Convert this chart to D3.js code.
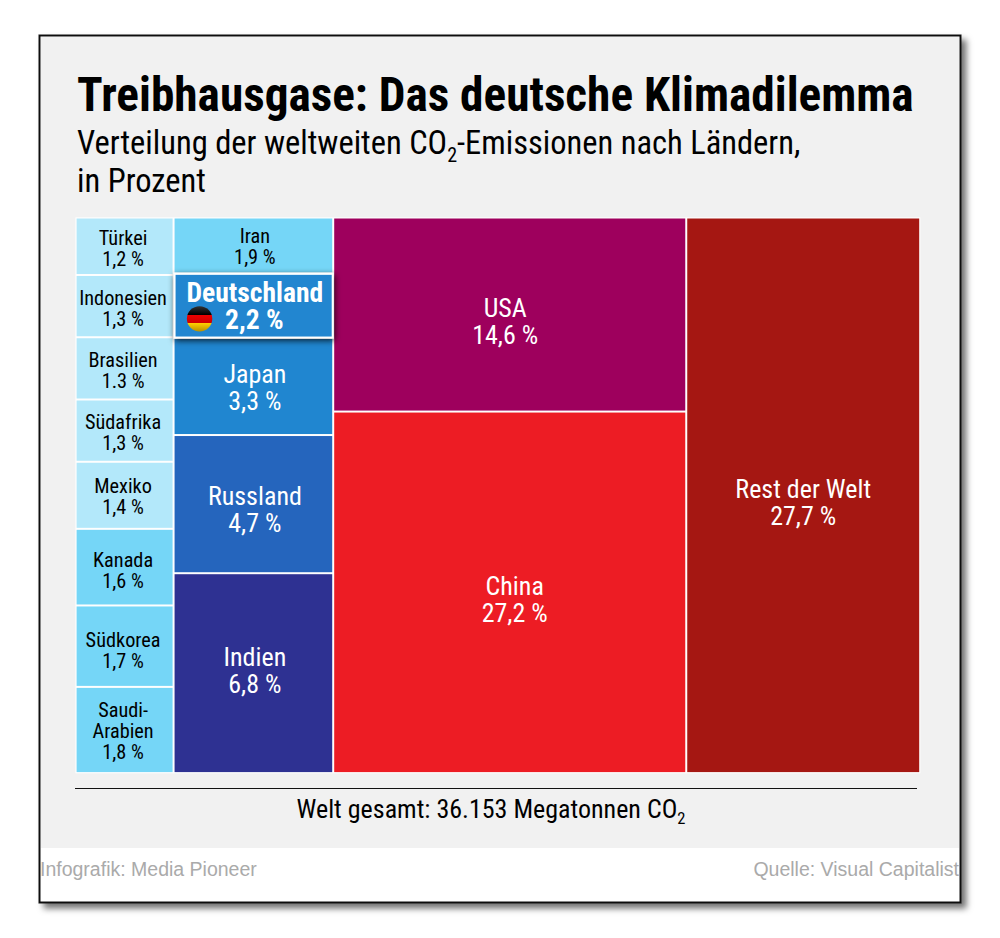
<!DOCTYPE html>
<html><head><meta charset="utf-8">
<script src="https://cdn.jsdelivr.net/npm/d3@7"></script>
<style>html,body{margin:0;padding:0;background:#fff}svg{display:block}
text{font-family:"Roboto Condensed",Roboto,sans-serif;font-stretch:condensed}</style></head>
<body><svg id="c" width="1000" height="938"></svg>
<script>
const col1Names=[["Türkei"],["Indonesien"],["Brasilien"],["Südafrika"],["Mexiko"],["Kanada"],["Südkorea"],["Saudi-","Arabien"]];
const col1Values=[1.2,1.3,1.3,1.3,1.4,1.6,1.7,1.8];
const col1Labels=["1,2 %","1,3 %","1.3 %","1,3 %","1,4 %","1,6 %","1,7 %","1,8 %"];
const col1Colors=["#b3e8fa","#b3e8fa","#b3e8fa","#b3e8fa","#b3e8fa","#75d6f7","#75d6f7","#75d6f7"];
const col2Names=[["Iran"],["Deutschland"],["Japan"],["Russland"],["Indien"]];
const col2Values=[1.9,2.2,3.3,4.7,6.8];
const col2Labels=["1,9 %","2,2 %","3,3 %","4,7 %","6,8 %"];
const col2Colors=["#75d6f7","#2086d0","#2086d0","#2565bd","#2e3192"];
const col3Names=[["USA"],["China"]];
const col3Values=[14.6,27.2];
const col3Labels=["14,6 %","27,2 %"];
const col3Colors=["#9e005d","#ed1c24"];
const col4Names=[["Rest der Welt"]];
const col4Values=[27.7];
const col4Labels=["27,7 %"];
const col4Colors=["#a51712"];

const mk=(n,v,l,c)=>({children:n.map((d,i)=>({name:d,value:v[i],label:l[i],color:c[i]}))});
const data={children:[mk(col1Names,col1Values,col1Labels,col1Colors),mk(col2Names,col2Values,col2Labels,col2Colors),mk(col3Names,col3Values,col3Labels,col3Colors),mk(col4Names,col4Values,col4Labels,col4Colors)]};

const svg=d3.select("#c");
const defs=svg.append("defs");
const f=defs.append("filter").attr("id","sh").attr("x","-5%").attr("y","-5%").attr("width","112%").attr("height","112%");
f.append("feDropShadow").attr("dx",5).attr("dy",5).attr("stdDeviation",3).attr("flood-color","#000").attr("flood-opacity",.55);
const f2=defs.append("filter").attr("id","sh2").attr("x","-10%").attr("y","-20%").attr("width","120%").attr("height","140%");
f2.append("feDropShadow").attr("dx",1).attr("dy",2).attr("stdDeviation",3).attr("flood-color","#000").attr("flood-opacity",.8);
const g=defs.append("linearGradient").attr("id","flag").attr("x1",0).attr("x2",0).attr("y1",0).attr("y2",1);
[[0,"#333"],[.33,"#000"],[.34,"#e00"],[.66,"#c00"],[.67,"#ffd000"],[1,"#b89000"]].forEach(s=>g.append("stop").attr("offset",s[0]).attr("stop-color",s[1]));

svg.append("rect").attr("x",39.5).attr("y",35.5).attr("width",921).attr("height",867).attr("fill","#fff").attr("stroke","#111").attr("stroke-width",2).attr("filter","url(#sh)");
svg.append("rect").attr("x",41).attr("y",37).attr("width",918).attr("height",811).attr("fill","#f1f1f1");

svg.append("text").attr("x",77).attr("y",111).attr("font-size",47.3).attr("font-weight",700).text("Treibhausgase: Das deutsche Klimadilemma");
const sub=svg.append("text").attr("x",77).attr("y",154).attr("font-size",32.5);
sub.append("tspan").text("Verteilung der weltweiten CO");
sub.append("tspan").attr("font-size",20).attr("dy",8).text("2");
sub.append("tspan").attr("dy",-8).text("-Emissionen nach Ländern,");
svg.append("text").attr("x",77).attr("y",192).attr("font-size",32.5).text("in Prozent");

const root=d3.hierarchy(data).sum(d=>d.value||0);
d3.treemap().tile(d3.treemapSliceDice).size([845,556]).paddingInner(2).paddingOuter(d=>d.depth===0?1.2:0).round(false)(root);
const chart=svg.append("g").attr("transform","translate(75.4,217.3)");
chart.append("rect").attr("width",845).attr("height",556).attr("fill","#fff").attr("opacity",.9);
const leaves=root.leaves();
const isSmall=d=>d.parent===root.children[0]||d.data.name[0]==="Iran";
const textColor=d=>d.data.color==="#b3e8fa"||d.data.color==="#75d6f7"?"#000":"#fff";
const nudgeY=new Map([["Türkei",2.5],["Indonesien",3],["Brasilien",3],["Südafrika",3],["Mexiko",2],["Kanada",4],["Südkorea",5],["Saudi-",1.5],["Iran",2],["Japan",2],["Russland",6],["Indien",-1.5],["USA",7.5],["China",8.5],["Rest der Welt",8.5]]);
const nudgeX=new Map([["USA",-4.5],["China",5]]);
const colShift=d=>d.parent===root.children[0]?-1.5:d.parent===root.children[1]?1.5:0;
const cells=chart.selectAll("g.c").data(leaves.filter(d=>d.data.name[0]!=="Deutschland")).join("g").attr("class","c");
cells.append("rect").attr("x",d=>d.x0).attr("y",d=>d.y0).attr("width",d=>d.x1-d.x0).attr("height",d=>d.y1-d.y0).attr("fill",d=>d.data.color);
cells.each(function(d){
  const fs=isSmall(d)?20.3:26,lh=isSmall(d)?21:27,lines=[...d.data.name,d.data.label];
  const cx=(d.x0+d.x1)/2+colShift(d)+(nudgeX.get(d.data.name[0])||0),cy=(d.y0+d.y1)/2;
  const top=cy-lh*lines.length/2+lh*.8+(nudgeY.get(d.data.name[0])||0);
  const t=d3.select(this).append("text").attr("text-anchor","middle").attr("font-size",fs).attr("fill",textColor(d)).attr("y",top);
  t.selectAll("tspan").data(lines).join("tspan").attr("x",cx).attr("dy",(_,i)=>i?lh:0).text(s=>s);
});
const de=leaves.find(d=>d.data.name[0]==="Deutschland");
const deG=chart.append("g");
deG.append("rect").attr("x",de.x0).attr("y",de.y0-0.5).attr("width",de.x1-de.x0+0.5).attr("height",de.y1-de.y0+1).attr("fill",de.data.color).attr("stroke","#fff").attr("stroke-width",2).attr("filter","url(#sh2)");
const mid=(de.x0+de.x1)/2+1.5;
deG.append("text").attr("x",mid).attr("y",de.y0+28).attr("text-anchor","middle").attr("font-size",27.6).attr("font-weight",700).attr("fill","#fff").text(de.data.name[0]);
deG.append("circle").attr("cx",de.x0+25).attr("cy",de.y0+44.5).attr("r",12.7).attr("fill","url(#flag)");
deG.append("text").attr("x",mid-.5).attr("y",de.y0+54.5).attr("text-anchor","middle").attr("font-size",27.6).attr("font-weight",700).attr("fill","#fff").text(de.data.label);

svg.append("line").attr("x1",75).attr("x2",917).attr("y1",788.5).attr("y2",788.5).attr("stroke","#111").attr("stroke-width",1.2);
const tot=svg.append("text").attr("x",491).attr("y",818).attr("text-anchor","middle").attr("font-size",26);
tot.append("tspan").text("Welt gesamt: 36.153 Megatonnen CO");
tot.append("tspan").attr("font-size",16.5).attr("dy",6).text("2");
svg.append("text").attr("x",40).attr("y",876).attr("font-size",19.5).attr("fill","#aaa").style("font-family","Liberation Sans").style("font-stretch","normal").text("Infografik: Media Pioneer");
svg.append("text").attr("x",959).attr("y",876).attr("text-anchor","end").attr("font-size",19.5).attr("fill","#aaa").style("font-family","Liberation Sans").style("font-stretch","normal").text("Quelle: Visual Capitalist");
</script></body></html>
